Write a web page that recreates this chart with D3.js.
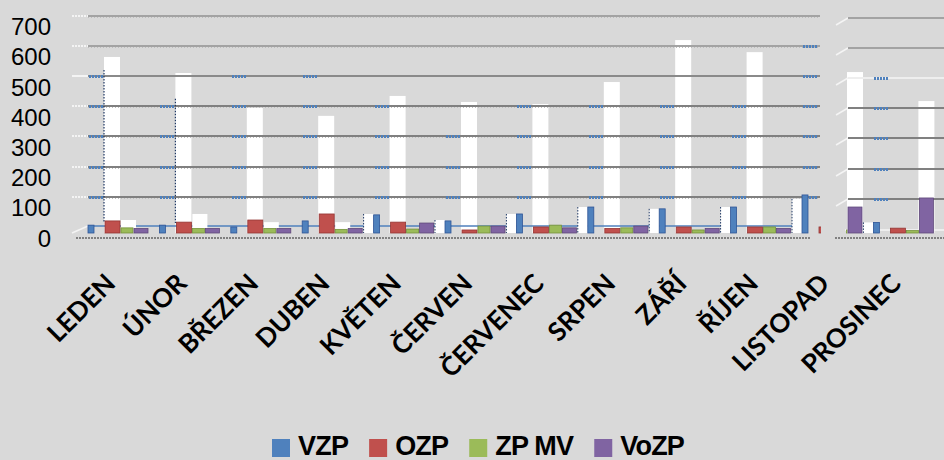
<!DOCTYPE html>
<html><head><meta charset="utf-8">
<script src="https://cdn.jsdelivr.net/npm/d3@7"></script>
<style>html,body{margin:0;padding:0;background:#d9d9d9}svg{display:block}</style>
</head><body>
<svg id="chart" width="944" height="460"></svg>
<script>
// ---------- data ----------
const months = ["LEDEN","ÚNOR","BŘEZEN","DUBEN","KVĚTEN","ČERVEN","ČERVENEC","SRPEN","ZÁŘÍ","ŘÍJEN","LISTOPAD","PROSINEC"];
const seriesNames = ["VZP","OZP","ZP MV","VoZP"];
const seriesColors = ["#4F81BD","#C0504D","#9BBB59","#8064A2"];
const yTicks = [0,100,200,300,400,500,600,700];
// tall (white-rendered) VZP columns
const vzp      = [563,510,394,368,434,414,407,480,619,579,513,417];
// small front VZP faces and their white sides
const vzpFront = [26,26,20,40,60,40,63,86,80,86,126,35];
const vzpSide  = [43,63,36,36,63,43,63,86,80,86,113,35];
const ozp      = [40,36,43,63,36,10,20,15,20,20,20,16];
const zpmv     = [17,15,15,12,13,23,26,17,10,20,10,8];
const vozp     = [15,15,15,15,33,23,17,23,15,15,86,116];
// gridline values that carry a blue tick for each month slot
const tickLevels = [[100,200,300,400,500],[100,200,300,400],[100,200,300,400,500],[100,200,300,400,500],
  [100,200,300,400],[100,200,300],[100,200,300,400],[100,200,300,400],[100,200,300,400],[100,200,300,400],
  [100,200,300,400,500,600],[100,200,300,400,500]];

// ---------- layout ----------
const svg = d3.select("#chart");
const x = d3.scaleBand().domain(months).range([81.3, 938.1]);
const y = d3.scaleLinear().domain([0,700]).range([227, 15.6]);
const yF = d3.scaleLinear().domain([0,700]).range([233, 21.6]);
const center = m => x(m) + x.bandwidth()/2;
const base = m => center(m) - 13;               // main-panel column position
const tallX = (m,i) => base(m) + (i >= 10 ? 29 : 0);
const mainL = 72, mainR = 820, rightL = 848, rightR = 944;

const defs = svg.append("defs");
const cp = defs.append("clipPath").attr("id","panels");
cp.append("rect").attr("x",0).attr("y",0).attr("width",821).attr("height",460);
cp.append("rect").attr("x",846).attr("y",0).attr("width",98).attr("height",460);

svg.append("rect").attr("width",944).attr("height",460).attr("fill","#d9d9d9");

// tall white columns
const gTall = svg.append("g");
months.forEach((m,i)=>{
  gTall.append("rect").attr("x",tallX(m,i)).attr("y",y(vzp[i])).attr("width",16)
    .attr("height",yF(0)-y(vzp[i])).attr("fill","#ffffff");
});

// gridlines
const grid = svg.append("g").attr("shape-rendering","crispEdges");
yTicks.filter(v=>v>0).forEach(v=>{
  const light = v>=600, solid = v===500;
  const col = light ? "#a3a3a3" : (solid ? "#8a8a8a" : "#808080");
  const yy = Math.round(y(v));
  grid.append("line").attr("x1",mainL).attr("x2",88).attr("y1",yy).attr("y2",yy)
    .attr("stroke","#f4f4f4").attr("stroke-width",2).attr("stroke-dasharray", solid? null : "2,1");
  grid.append("line").attr("x1",88).attr("x2",mainR).attr("y1",yy).attr("y2",yy)
    .attr("stroke",col).attr("stroke-width",2);
  if (!solid) grid.append("line").attr("x1",88).attr("x2",mainR).attr("y1",yy+1).attr("y2",yy+1)
    .attr("stroke","#bdbdbd").attr("stroke-width",1).attr("stroke-dasharray","1,2");
  // right panel
  grid.append("line").attr("x1",836).attr("x2",rightL).attr("y1",yy+9).attr("y2",yy+2)
    .attr("stroke","#f4f4f4").attr("stroke-width",1.5).attr("shape-rendering","auto");
  grid.append("line").attr("x1",rightL).attr("x2",rightR).attr("y1",yy+2).attr("y2",yy+2)
    .attr("stroke",solid?"#eeeeee":col).attr("stroke-width",2);
});

// blue ticks on gridlines
months.forEach((m,i)=>{
  tickLevels[i].forEach(v=>{
    const yy = Math.round(y(v)) + (i===11 ? 2 : 0);
    grid.append("line").attr("x1",base(m)-15).attr("x2",base(m)).attr("y1",yy).attr("y2",yy)
      .attr("stroke","#4F81BD").attr("stroke-width",3).attr("stroke-dasharray","2,1");
  });
});

// dark dotted edges on first columns
[[0,520],[1,425]].forEach(([i,v])=>{
  const m = months[i];
  svg.append("line").attr("x1",tallX(m,i)).attr("x2",tallX(m,i)).attr("y1",y(v)).attr("y2",yF(0)-10)
    .attr("stroke","#1f3864").attr("stroke-width",1.2).attr("stroke-dasharray","1.5,1.5");
});

// baseline (blue) and floor axis lines
svg.append("line").attr("x1",88).attr("x2",808).attr("y1",y(0)-1).attr("y2",y(0)-1)
  .attr("stroke","#4F81BD").attr("stroke-width",1.5);
svg.append("line").attr("x1",72).attr("x2",88).attr("y1",yF(0)).attr("y2",y(0)-1)
  .attr("stroke","#f4f4f4").attr("stroke-width",1.5);
svg.append("line").attr("x1",845).attr("x2",rightR).attr("y1",yF(0)-3).attr("y2",yF(0)-3)
  .attr("stroke","#f4f4f4").attr("stroke-width",1.5);
svg.append("line").attr("x1",76).attr("x2",810).attr("y1",238).attr("y2",238)
  .attr("stroke","#808080").attr("stroke-width",2).attr("stroke-dasharray","2,1").attr("shape-rendering","crispEdges");
svg.append("line").attr("x1",835).attr("x2",rightR).attr("y1",238).attr("y2",238)
  .attr("stroke","#808080").attr("stroke-width",2).attr("stroke-dasharray","2,1").attr("shape-rendering","crispEdges");

// small front columns
const gs = svg.append("g").attr("clip-path","url(#panels)");
months.forEach((m,i)=>{
  const b = base(m);
  const sx = i < 4 ? b + 17 : b - 26;
  gs.append("rect").attr("x",sx).attr("y",yF(vzpSide[i])).attr("width",i<4?15:10)
    .attr("height",yF(0)-yF(vzpSide[i])).attr("fill","#ffffff");
  if (i >= 4) gs.append("line").attr("x1",sx).attr("x2",sx).attr("y1",yF(vzpSide[i])).attr("y2",yF(0))
    .attr("stroke","#1f3864").attr("stroke-width",1).attr("stroke-dasharray","1.5,1.5");
  gs.append("rect").attr("x",b-16).attr("y",yF(vzpFront[i])).attr("width",6)
    .attr("height",yF(0)-yF(vzpFront[i])).attr("fill",seriesColors[0]).attr("stroke","#2f5597").attr("stroke-width",0.8);
  gs.append("rect").attr("x",b+1).attr("y",yF(ozp[i])).attr("width",15)
    .attr("height",yF(0)-yF(ozp[i])).attr("fill",seriesColors[1]).attr("stroke","#943634").attr("stroke-width",0.8);
  gs.append("rect").attr("x",b+17).attr("y",yF(zpmv[i])).attr("width",12)
    .attr("height",yF(0)-yF(zpmv[i])).attr("fill",seriesColors[2]).attr("stroke","#76923c").attr("stroke-width",0.8);
  gs.append("rect").attr("x",b+30).attr("y",yF(vozp[i])).attr("width",14)
    .attr("height",yF(0)-yF(vozp[i])).attr("fill",seriesColors[3]).attr("stroke","#5f497a").attr("stroke-width",0.8);
});

// y axis labels
svg.append("g").selectAll("text").data(yTicks).join("text")
  .attr("x",51).attr("y",d=>y(d)+11).attr("text-anchor","end").attr("dominant-baseline","central")
  .attr("font-family","'Liberation Sans', Arial, sans-serif").attr("font-size",24).attr("fill","#000")
  .text(d=>d);

// category labels
svg.append("g").selectAll("text").data(months).join("text")
  .attr("transform",d=>`translate(${center(d)},285) rotate(-45)`).attr("text-anchor","end")
  .attr("font-family","Lato, 'Open Sans', sans-serif").attr("font-weight",700).attr("font-size",26)
  .attr("fill","#000").text(d=>d);

// legend
const lg = svg.append("g");
let lx = 272;
seriesNames.forEach((s,i)=>{
  lg.append("rect").attr("x",lx).attr("y",439).attr("width",18).attr("height",18).attr("fill",seriesColors[i]);
  const t = lg.append("text").attr("x",lx+26).attr("y",455)
    .attr("font-family","'Liberation Sans', Arial, sans-serif").attr("font-weight",700).attr("font-size",27)
    .attr("letter-spacing",-0.8).attr("fill","#000").text(s);
  lx += 26 + t.node().getComputedTextLength() + 21;
});
</script>
</body></html>
